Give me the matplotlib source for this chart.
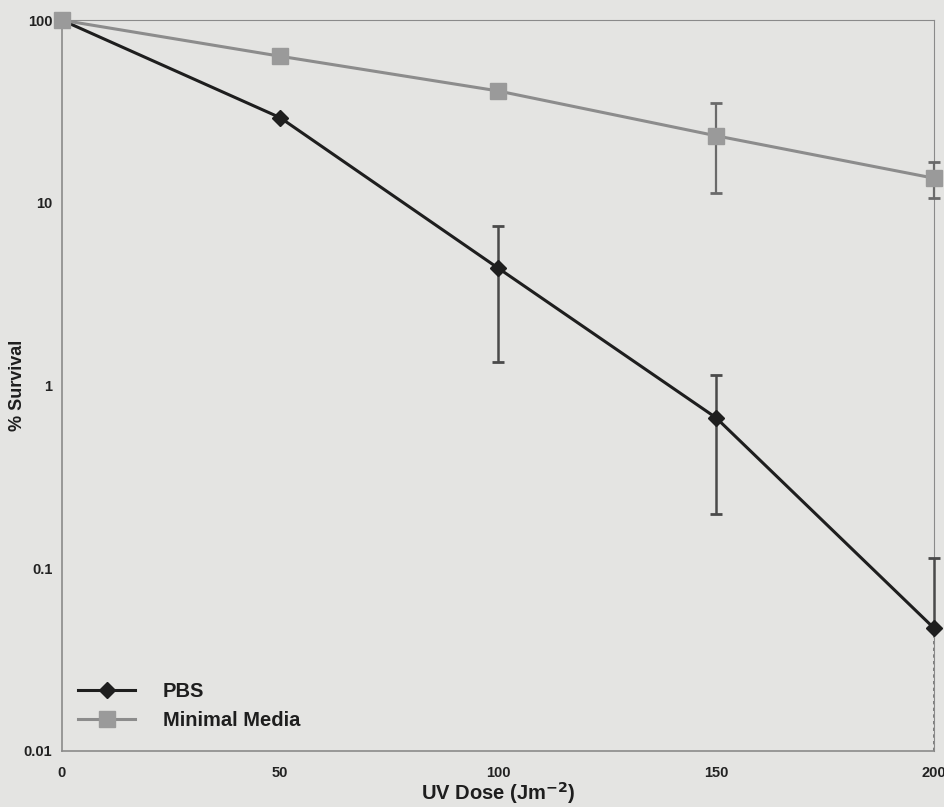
import matplotlib
matplotlib.use("Agg")
import matplotlib.pyplot as plt
from matplotlib.lines import Line2D

# UV survival data
dose = [0, 50, 100, 150, 200]
pbs_survival = [100, 29.3, 4.4, 0.667, 0.047]
pbs_err = [0, 0, 3.05, 0.47, 0.067]
mm_survival = [100, 63.5, 41.0, 23.3, 13.65]
mm_err = [0, 0, 0, 12.0, 3.0]

bg = "#e4e4e2"
pbs_color = "#1e1e1e"
mm_color = "#8c8c8c"
mm_marker = "#9a9a9a"
plt.rcParams["font.family"] = ["Liberation Sans", "DejaVu Sans"]

fig = plt.figure(figsize=(9.45, 8.07), dpi=100, facecolor=bg)
ax = fig.add_axes([0.0656, 0.0694, 0.9228, 0.9056], facecolor=bg)

ax.set_yscale("log")
ax.set_xlim(0, 200)
ax.set_ylim(0.01, 100)

# PBS: the lower error bar at 200 falls below zero, so only the upper part is drawn
pbs_lo = [e if v - e > 0 else 0 for v, e in zip(pbs_survival, pbs_err)]
ax.errorbar(dose, pbs_survival, yerr=[pbs_lo, pbs_err], color=pbs_color, lw=2.2,
            marker="D", ms=8.5, mfc=pbs_color, mec=pbs_color,
            ecolor="#4a4a4a", elinewidth=1.8, capsize=4, capthick=2,
            clip_on=False, zorder=4)
ax.errorbar(dose, mm_survival, yerr=mm_err, color=mm_color, lw=2.2,
            marker="s", ms=12, mfc=mm_marker, mec=mm_marker,
            ecolor="#6a6a6a", elinewidth=1.6, capsize=4, capthick=2,
            clip_on=False, zorder=5)
# tail of the 200 error bar running to the axis floor
ax.vlines(200, 0.01, pbs_survival[-1], color="#6a6a6a", lw=1.2, linestyle=(0, (2, 2)),
          clip_on=False, zorder=2)

for side in ["left", "bottom", "top", "right"]:
    ax.spines[side].set_color("#8a8a8a")
    ax.spines[side].set_linewidth(1.2)
ax.spines["top"].set_linewidth(0.8)
ax.spines["right"].set_linewidth(0.8)

ax.set_xticks(dose)
ax.set_xticklabels([str(d) for d in dose])
ax.set_yticks([0.01, 0.1, 1, 10, 100])
ax.set_yticklabels(["0.01", "0.1", "1", "10", "100"])
ax.minorticks_off()
ax.tick_params(axis="both", length=0, labelsize=10.5, colors="#222222")
ax.tick_params(axis="y", pad=7)
ax.tick_params(axis="x", pad=11)
for lbl in ax.get_xticklabels() + ax.get_yticklabels():
    lbl.set_fontweight("bold")

ax.set_xlabel("UV Dose (Jm$^{\\mathbf{-2}}$)", fontsize=14.5, fontweight="bold",
              color="#1e1e1e")
ax.xaxis.set_label_coords(0.5, -0.040)
ax.set_ylabel("% Survival", fontsize=13, fontweight="bold", color="#1e1e1e")
ax.yaxis.set_label_coords(-0.041, 0.5)

handles = [
    Line2D([], [], color=pbs_color, lw=2.2, marker="D", ms=8.5,
           mfc=pbs_color, mec=pbs_color),
    Line2D([], [], color=mm_color, lw=2.2, marker="s", ms=12,
           mfc=mm_marker, mec=mm_marker),
]
leg = ax.legend(handles, ["PBS", "Minimal Media"],
                loc="lower left", bbox_to_anchor=(-0.002, 0.004), frameon=False,
                prop={"weight": "bold", "size": 14.5}, handlelength=2.8,
                labelspacing=0.5, handletextpad=1.4)
for t in leg.get_texts():
    t.set_color("#1e1e1e")

fig.savefig("out.png", dpi=100, facecolor=bg)
